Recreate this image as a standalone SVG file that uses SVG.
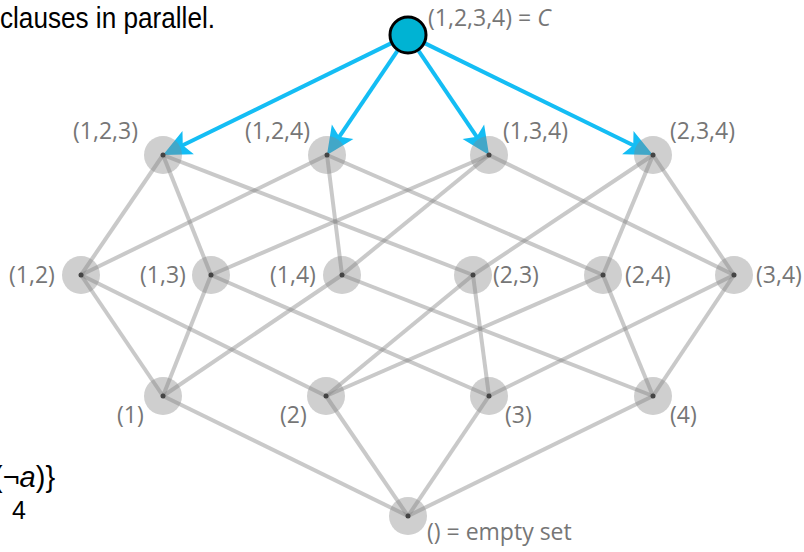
<svg xmlns="http://www.w3.org/2000/svg" width="804" height="552" viewBox="0 0 804 552">
  <style>
    .edge { stroke: #888888; stroke-opacity: 0.45; stroke-width: 4; fill: none; }
    .arrow { stroke: #14bdf4; stroke-width: 4; fill: none; marker-end: url(#head); }
    .halo { fill: #888888; fill-opacity: 0.4; }
    .dot { fill: #444444; }
    .lbl { font-family: "Open Sans", "Liberation Sans", sans-serif; font-size: 23px; fill: #767676; }
    .txt { font-family: "Liberation Sans", "DejaVu Sans", sans-serif; fill: #000000; }
  </style>
  <defs>
    <marker id="head" viewBox="0 0 28 26" refX="14" refY="13" markerWidth="28" markerHeight="26" markerUnits="userSpaceOnUse" orient="auto" overflow="visible">
      <path d="M0,0 L28,13 L0,26 L6,13 z" fill="#14bdf4"/>
    </marker>
  </defs>

  <text class="txt" x="0" y="28" font-size="30" textLength="215" lengthAdjust="spacingAndGlyphs">clauses in parallel.</text>
  <text class="txt" x="-7" y="487" font-size="29">(¬<tspan font-style="italic">a</tspan>)}</text>
  <text class="txt" x="12" y="519" font-size="25">4</text>

  <g id="connectors">
    <line class="arrow" x1="390.9" y1="43.4" x2="175.6" y2="148.8"/>
    <line class="arrow" x1="397.4" y1="50.8" x2="334.8" y2="143.4"/>
    <line class="arrow" x1="418.6" y1="50.8" x2="481.2" y2="143.4"/>
    <line class="arrow" x1="425.1" y1="43.4" x2="640.4" y2="148.8"/>

    <line class="edge" x1="163" y1="155" x2="81" y2="275"/>
    <line class="edge" x1="163" y1="155" x2="211" y2="275"/>
    <line class="edge" x1="163" y1="155" x2="473" y2="275"/>
    <line class="edge" x1="327" y1="155" x2="81" y2="275"/>
    <line class="edge" x1="327" y1="155" x2="342" y2="275"/>
    <line class="edge" x1="327" y1="155" x2="603" y2="275"/>
    <line class="edge" x1="489" y1="155" x2="211" y2="275"/>
    <line class="edge" x1="489" y1="155" x2="342" y2="275"/>
    <line class="edge" x1="489" y1="155" x2="734" y2="275"/>
    <line class="edge" x1="653" y1="155" x2="473" y2="275"/>
    <line class="edge" x1="653" y1="155" x2="603" y2="275"/>
    <line class="edge" x1="653" y1="155" x2="734" y2="275"/>

    <line class="edge" x1="81" y1="275" x2="163" y2="396"/>
    <line class="edge" x1="81" y1="275" x2="326" y2="396"/>
    <line class="edge" x1="211" y1="275" x2="163" y2="396"/>
    <line class="edge" x1="211" y1="275" x2="489" y2="396"/>
    <line class="edge" x1="342" y1="275" x2="163" y2="396"/>
    <line class="edge" x1="342" y1="275" x2="653" y2="396"/>
    <line class="edge" x1="473" y1="275" x2="326" y2="396"/>
    <line class="edge" x1="473" y1="275" x2="489" y2="396"/>
    <line class="edge" x1="603" y1="275" x2="326" y2="396"/>
    <line class="edge" x1="603" y1="275" x2="653" y2="396"/>
    <line class="edge" x1="734" y1="275" x2="489" y2="396"/>
    <line class="edge" x1="734" y1="275" x2="653" y2="396"/>

    <line class="edge" x1="408" y1="516" x2="163" y2="396"/>
    <line class="edge" x1="408" y1="516" x2="326" y2="396"/>
    <line class="edge" x1="408" y1="516" x2="489" y2="396"/>
    <line class="edge" x1="408" y1="516" x2="653" y2="396"/>
  </g>

  <g id="n1234">
    <circle cx="408" cy="35" r="18" fill="#00b3d3" stroke="#000000" stroke-width="3"/>
    <text class="lbl" x="428" y="26">(1,2,3,4) = <tspan font-style="italic">C</tspan></text>
  </g>

  <g id="n123"><circle class="halo" cx="163" cy="155" r="19"/><circle class="dot" cx="163" cy="155" r="2.5"/><text class="lbl" x="73" y="139">(1,2,3)</text></g>
  <g id="n124"><circle class="halo" cx="327" cy="155" r="19"/><circle class="dot" cx="327" cy="155" r="2.5"/><text class="lbl" x="245" y="139">(1,2,4)</text></g>
  <g id="n134"><circle class="halo" cx="489" cy="155" r="19"/><circle class="dot" cx="489" cy="155" r="2.5"/><text class="lbl" x="503" y="139">(1,3,4)</text></g>
  <g id="n234"><circle class="halo" cx="653" cy="155" r="19"/><circle class="dot" cx="653" cy="155" r="2.5"/><text class="lbl" x="670" y="139">(2,3,4)</text></g>

  <g id="n12"><circle class="halo" cx="81" cy="275" r="19"/><circle class="dot" cx="81" cy="275" r="2.5"/><text class="lbl" x="9" y="283">(1,2)</text></g>
  <g id="n13"><circle class="halo" cx="211" cy="275" r="19"/><circle class="dot" cx="211" cy="275" r="2.5"/><text class="lbl" x="140" y="283">(1,3)</text></g>
  <g id="n14"><circle class="halo" cx="342" cy="275" r="19"/><circle class="dot" cx="342" cy="275" r="2.5"/><text class="lbl" x="270" y="283">(1,4)</text></g>
  <g id="n23"><circle class="halo" cx="473" cy="275" r="19"/><circle class="dot" cx="473" cy="275" r="2.5"/><text class="lbl" x="493" y="283">(2,3)</text></g>
  <g id="n24"><circle class="halo" cx="603" cy="275" r="19"/><circle class="dot" cx="603" cy="275" r="2.5"/><text class="lbl" x="625" y="283">(2,4)</text></g>
  <g id="n34"><circle class="halo" cx="734" cy="275" r="19"/><circle class="dot" cx="734" cy="275" r="2.5"/><text class="lbl" x="756" y="283">(3,4)</text></g>

  <g id="n1"><circle class="halo" cx="163" cy="396" r="19"/><circle class="dot" cx="163" cy="396" r="2.5"/><text class="lbl" x="117" y="423">(1)</text></g>
  <g id="n2"><circle class="halo" cx="326" cy="396" r="19"/><circle class="dot" cx="326" cy="396" r="2.5"/><text class="lbl" x="280" y="423">(2)</text></g>
  <g id="n3"><circle class="halo" cx="489" cy="396" r="19"/><circle class="dot" cx="489" cy="396" r="2.5"/><text class="lbl" x="505" y="423">(3)</text></g>
  <g id="n4"><circle class="halo" cx="653" cy="396" r="19"/><circle class="dot" cx="653" cy="396" r="2.5"/><text class="lbl" x="670" y="423">(4)</text></g>

  <g id="n0"><circle class="halo" cx="408" cy="516" r="19"/><circle class="dot" cx="408" cy="516" r="2.5"/><text class="lbl" x="427" y="540">() = empty set</text></g>
</svg>
